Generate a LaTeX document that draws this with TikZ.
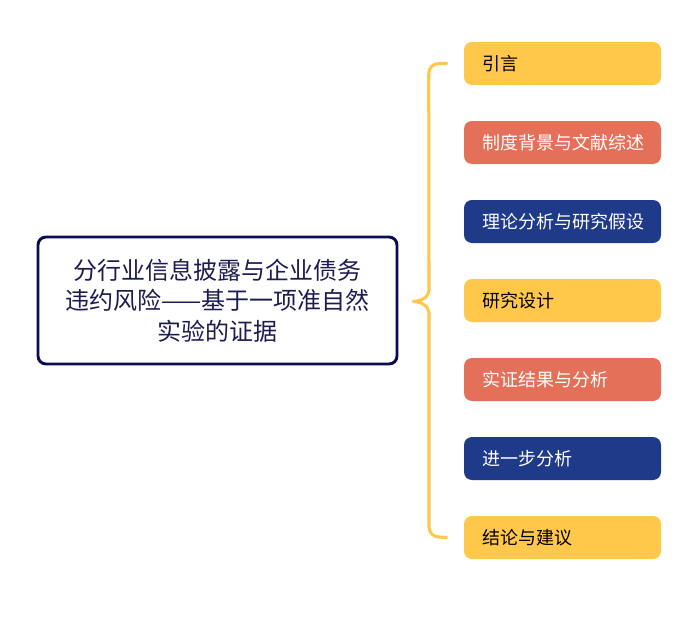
\documentclass[tikz,border=0pt]{standalone}
\usepackage{fontspec}
\setmainfont{Noto Sans CJK SC}
\usetikzlibrary{calc}
\definecolor{cyellow}{HTML}{FFC84A}
\definecolor{corange}{HTML}{E4705A}
\definecolor{cnavy}{HTML}{1F3A88}
\definecolor{ctitle}{HTML}{1C1C50}
\definecolor{cborder}{HTML}{0B0B4F}
\tikzset{
  titlebox/.style={draw=cborder, line width=2.2pt, rounded corners=6pt, fill=white,
    minimum width=359*0.75pt, minimum height=127*0.75pt, text width=330*0.75pt,
    align=center, text=ctitle, font=\fontsize{18pt}{23pt}\selectfont, inner sep=0pt},
  branch/.style={rounded corners=6pt, minimum width=197*0.75pt, minimum height=43*0.75pt,
    text width=161*0.75pt, align=left, inner sep=0pt, font=\fontsize{13.5pt}{16pt}\selectfont},
  ybox/.style={branch, fill=cyellow, text=black},
  obox/.style={branch, fill=corange, text=white},
  nbox/.style={branch, fill=cnavy, text=white},
  brace/.style={draw=cyellow, line width=2.3pt, line cap=round}
}
\begin{document}
\begin{tikzpicture}[x=0.75pt, y=-0.75pt]
\useasboundingbox (0,0) rectangle (697,621);
\node[titlebox] (title) at (217.5,300.5) {分行业信息披露与企业债务\\违约风险——基于一项准自然\\实验的证据};
\node[ybox] (b1) at (562.5,63.5) {引言};
\node[obox] (b2) at (562.5,142.5) {制度背景与文献综述};
\node[nbox] (b3) at (562.5,221.5) {理论分析与研究假设};
\node[ybox] (b4) at (562.5,300.5) {研究设计};
\node[obox] (b5) at (562.5,379.5) {实证结果与分析};
\node[nbox] (b6) at (562.5,458.5) {进一步分析};
\node[ybox] (b7) at (562.5,537.5) {结论与建议};
\coordinate (tip) at ($(title.east)+(14,1)$);
\coordinate (top) at ($(b1.west)+(-17,0)$);
\coordinate (bot) at ($(b7.west)+(-17,0)$);
\draw[brace] (top) -- ($(top)+(-8,0)$) arc[start angle=90, end angle=180, radius=10*0.75pt]
  -- (429,290) .. controls (429,297) and (421,301.5) .. (tip)
  .. controls (421,301.5) and (429,306) .. (429,313)
  -- (429,527) arc[start angle=180, end angle=270, radius=10*0.75pt] -- (bot);
\end{tikzpicture}
\end{document}
